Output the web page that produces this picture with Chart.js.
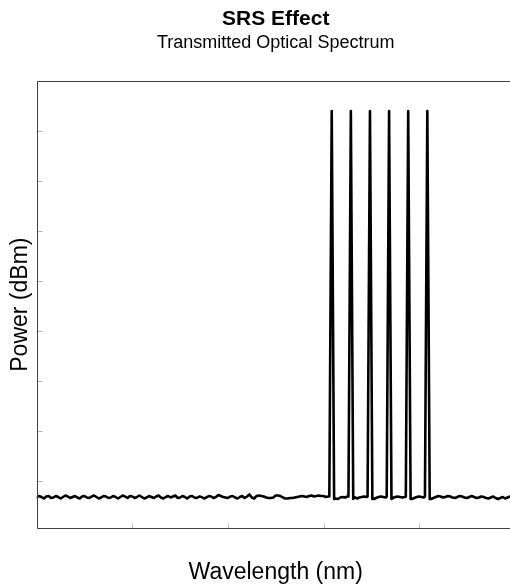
<!DOCTYPE html>
<html><head><meta charset="utf-8">
<script src="https://cdn.jsdelivr.net/npm/chart.js@4/dist/chart.umd.min.js"></script>
<style>
html,body{margin:0;padding:0;background:#fff;overflow:hidden;width:510px;height:586px}
#wrap{width:516px;height:586px;position:relative}
canvas{display:block}
</style></head>
<body><div id="wrap"><canvas id="c" width="516" height="586"></canvas></div>
<script>
const titleText = 'SRS Effect';
const subtitleText = 'Transmitted Optical Spectrum';
const xAxisLabel = 'Wavelength (nm)';
const yAxisLabel = 'Power (dBm)';

// noise floor sampled every 0.25 nm from 1530 nm
const wavelengthStart = 1530;
const wavelengthStep = 0.25;
const floorPower = [
 -73.3,-73.0,-73.2,-73.5,-73.1,-73.0,-73.4,-73.3,-73.0,-73.2,
 -73.5,-73.2,-72.9,-73.1,-73.4,-73.2,-73.0,-73.3,-73.5,-73.1,
 -73.0,-73.3,-73.4,-73.1,-72.9,-73.2,-73.5,-73.3,-73.0,-73.1,
 -73.4,-73.3,-73.0,-73.2,-73.5,-73.2,-72.9,-73.1,-73.4,-73.0,
 -73.1,-73.4,-73.2,-72.9,-73.2,-73.5,-73.3,-73.0,-73.2,-73.4,
 -73.1,-72.9,-73.3,-73.5,-73.2,-73.0,-73.3,-73.1,-72.9,-73.4,
 -73.3,-73.0,-73.2,-73.5,-73.1,-73.0,-73.3,-73.4,-73.1,-73.2,
 -73.5,-73.3,-73.0,-73.1,-73.4,-73.2,-72.8,-73.0,-73.2,-73.3,
 -73.4,-73.1,-73.0,-73.3,-73.5,-73.2,-73.0,-73.4,-73.1,-72.7,
 -73.3,-73.5,-73.0,-72.9,-73.0,-73.1,-73.3,-73.4,-73.4,-73.3,
 -72.9,-72.9,-73.0,-73.3,-73.5,-73.5,-73.4,-73.4,-73.3,-73.2,
 -73.1,-73.0,-73.1,-73.2,-73.0,-72.9,-73.1,-73.0,-72.9,-73.0,
 -73.0,-73.2,-73.1,-73.2,-73.0,-73.5,-73.6,-73.3,-73.2,-73.3,
 -73.1,-73.2,-73.2,-73.2,-73.5,-73.3,-73.2,-73.1,-73.2,-73.2,
 -73.2,-73.6,-73.4,-73.2,-73.1,-73.2,-73.3,-73.3,-73.6,-73.4,
 -73.2,-73.1,-73.2,-73.3,-73.2,-73.0,-73.0,-73.6,-73.4,-73.2,
 -73.1,-73.2,-73.3,-73.2,-73.2,-73.6,-73.4,-73.2,-73.0,-73.1,
 -73.3,-73.2,-73.0,-73.1,-73.3,-73.4,-73.2,-73.0,-73.1,-73.3,
 -73.4,-73.2,-73.0,-73.2,-73.4,-73.3,-73.1,-73.2,-73.4,-73.5,
 -73.3,-73.1,-73.4,-73.6,-73.4,-73.2,-73.5,-73.3,-73.1,-73.2,
 -73.3
];

// WDM channels
const peakWavelengths = [1560.86, 1562.86, 1564.86, 1566.86, 1568.86, 1570.86];
const peakPower       = [4.0, 4.0, 4.0, 4.0, 4.0, 4.0];
const peakLeftBase    = [-73.1, -73.1, -73.1, -73.1, -73.1, -73.1];
const peakRightBase   = [-73.6, -73.6, -73.6, -73.6, -73.6, -73.6];
const peakHalfWidth = 0.25;

const xMin = 1530, xMax = 1580;
const yMin = -79.46, yMax = 10;
const xTicks = [1540, 1550, 1560, 1570];
const yTicks = [0, -10, -20, -30, -40, -50, -60, -70];

const floorPoints = floorPower.map((p, i) => ({x: wavelengthStart + i * wavelengthStep, y: p}));
const keptFloor = floorPoints.filter(pt => peakWavelengths.every(c => Math.abs(pt.x - c) > peakHalfWidth + 0.01));
const peakPoints = [];
peakWavelengths.forEach((c, i) => {
  peakPoints.push({x: c - peakHalfWidth, y: peakLeftBase[i]});
  peakPoints.push({x: c, y: peakPower[i]});
  peakPoints.push({x: c + peakHalfWidth, y: peakRightBase[i]});
});
const spectrum = keptFloor.concat(peakPoints).sort((a, b) => a.x - b.x);

const FONT = "'Liberation Sans', Arial, Helvetica, sans-serif";

const axisFrame = {
  id: 'axisFrame',
  afterDatasetsDraw(chart) {
    const {ctx, chartArea, scales} = chart;
    const {left, top, right, bottom} = chartArea;
    const L = Math.round(left) + 0.5, T = Math.round(top) + 0.5, B = Math.round(bottom) + 0.5, R = Math.round(right) + 0.5;
    ctx.save();
    ctx.lineWidth = 1;
    ctx.strokeStyle = '#b8b8b8';
    scales.y.ticks.forEach(t => {
      const py = Math.round(scales.y.getPixelForValue(t.value)) + 0.5;
      ctx.beginPath(); ctx.moveTo(L, py); ctx.lineTo(L + 5, py); ctx.stroke();
    });
    scales.x.ticks.forEach(t => {
      const px = Math.round(scales.x.getPixelForValue(t.value)) + 0.5;
      ctx.beginPath(); ctx.moveTo(px, B); ctx.lineTo(px, B - 5); ctx.stroke();
    });
    ctx.strokeStyle = '#404040';
    ctx.beginPath();
    ctx.moveTo(R, T); ctx.lineTo(L, T); ctx.lineTo(L, B); ctx.lineTo(R, B); ctx.lineTo(R, T);
    ctx.stroke();
    ctx.restore();
  }
};

new Chart(document.getElementById('c'), {
  type: 'line',
  data: {
    datasets: [{
      data: spectrum,
      borderColor: '#000000',
      borderWidth: 2.6,
      borderJoinStyle: 'round',
      borderCapStyle: 'round',
      pointRadius: 0,
      tension: 0,
      fill: false
    }]
  },
  options: {
    responsive: false,
    devicePixelRatio: 1,
    animation: false,
    events: [],
    layout: {padding: {left: 0, right: 1.3, top: 0, bottom: 0}},
    plugins: {
      legend: {display: false},
      tooltip: {enabled: false},
      title: {
        display: true, text: titleText, fullSize: false, color: '#000',
        font: {family: FONT, size: 21, weight: 'bold', lineHeight: 1.2},
        padding: {top: 6.6, bottom: 0}
      },
      subtitle: {
        display: true, text: subtitleText, fullSize: false, color: '#000',
        font: {family: FONT, size: 18, weight: 'normal', lineHeight: 1.2},
        padding: {top: 0, bottom: 27.6}
      }
    },
    scales: {
      x: {
        type: 'linear', min: xMin, max: xMax,
        grid: {display: false}, border: {display: false},
        ticks: {display: false},
        afterBuildTicks: s => { s.ticks = xTicks.map(v => ({value: v})); },
        afterFit: s => { s.height = 57.7; },
        title: {display: true, text: xAxisLabel, color: '#000',
          font: {family: FONT, size: 23, lineHeight: 1.2}, padding: {top: 0, bottom: 0}}
      },
      y: {
        type: 'linear', min: yMin, max: yMax,
        grid: {display: false}, border: {display: false},
        ticks: {display: false},
        afterBuildTicks: s => { s.ticks = yTicks.map(v => ({value: v})); },
        afterFit: s => { s.width = 36.7; },
        title: {display: true, text: yAxisLabel, color: '#000',
          font: {family: FONT, size: 23, lineHeight: 1.2}, padding: {top: 7.2, bottom: 0}}
      }
    }
  },
  plugins: [axisFrame]
});
</script>
</body></html>
